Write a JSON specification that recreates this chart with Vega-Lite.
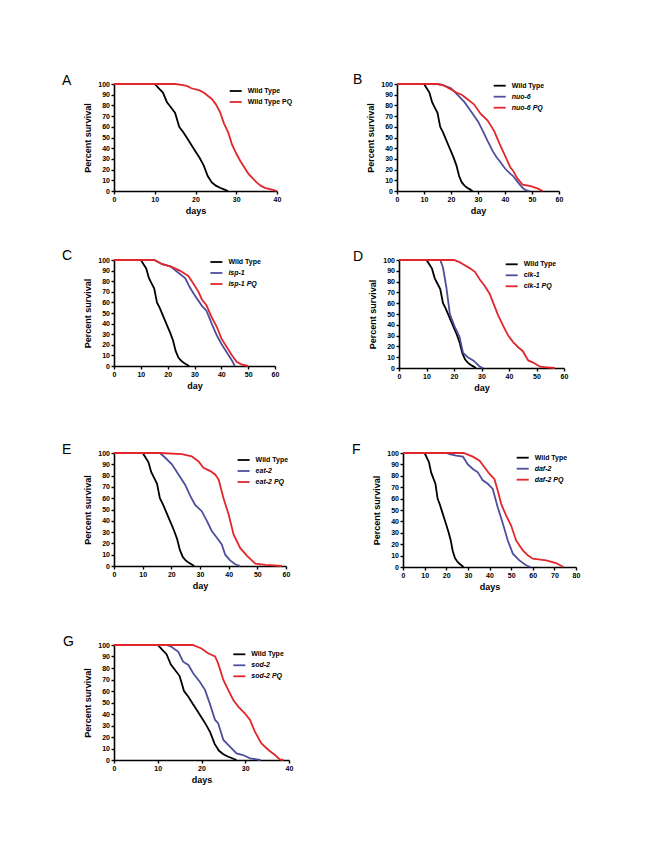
{
  "$schema": "https://vega.github.io/schema/vega-lite/v6.json",
  "background": "white",
  "padding": {"left": 62, "top": 72, "right": 5, "bottom": 5},
  "config": {
    "view": {"stroke": null},
    "font": "Liberation Sans",
    "title": {"anchor": "start", "frame": "group", "dx": -50, "offset": 0, "baseline": "alphabetic", "dy": 12, "fontSize": 14, "fontWeight": "normal", "font": "Liberation Sans", "color": "#000"},
    "axis": {"grid": false, "domainColor": "#000", "domainWidth": 1.6, "tickColor": "#000", "tickWidth": 1.4, "tickSize": 3, "labelFont": "Liberation Sans", "labelFontSize": 7, "labelFontWeight": "bold", "labelColor": "#000", "labelPadding": 1.5, "labelFlush": false, "labelOverlap": false, "titleFont": "Liberation Sans", "titleFontSize": 9, "titleFontWeight": "bold", "titleColor": "#000"},
    "axisX": {"titlePadding": 4},
    "axisY": {"titlePadding": 5},
    "legend": {"orient": "none", "symbolType": "stroke", "symbolSize": 144, "symbolStrokeWidth": 2, "labelFont": "Liberation Sans", "labelFontSize": 7, "labelFontWeight": "bold", "labelColor": "#000", "labelOffset": 5, "rowPadding": 0, "padding": 0},
    "line": {"strokeWidth": 1.8}
  },
  "datasets": {
    "A": [
      {"series": "Wild Type", "day": 0, "survival": 100}, {"series": "Wild Type", "day": 10, "survival": 100}, {"series": "Wild Type", "day": 11, "survival": 96}, {"series": "Wild Type", "day": 12, "survival": 92}, {"series": "Wild Type", "day": 13, "survival": 83}, {"series": "Wild Type", "day": 14, "survival": 78}, {"series": "Wild Type", "day": 15, "survival": 73}, {"series": "Wild Type", "day": 16, "survival": 60}, {"series": "Wild Type", "day": 17, "survival": 55}, {"series": "Wild Type", "day": 18, "survival": 49}, {"series": "Wild Type", "day": 19, "survival": 43}, {"series": "Wild Type", "day": 20, "survival": 37}, {"series": "Wild Type", "day": 21, "survival": 31}, {"series": "Wild Type", "day": 22, "survival": 24}, {"series": "Wild Type", "day": 23, "survival": 14}, {"series": "Wild Type", "day": 24, "survival": 8}, {"series": "Wild Type", "day": 25, "survival": 5}, {"series": "Wild Type", "day": 26, "survival": 3}, {"series": "Wild Type", "day": 27, "survival": 1.5}, {"series": "Wild Type", "day": 28, "survival": 0},
      {"series": "Wild Type PQ", "day": 0, "survival": 100}, {"series": "Wild Type PQ", "day": 15, "survival": 100}, {"series": "Wild Type PQ", "day": 17, "survival": 99}, {"series": "Wild Type PQ", "day": 18, "survival": 98}, {"series": "Wild Type PQ", "day": 19, "survival": 96}, {"series": "Wild Type PQ", "day": 21, "survival": 94}, {"series": "Wild Type PQ", "day": 22, "survival": 92}, {"series": "Wild Type PQ", "day": 23, "survival": 89}, {"series": "Wild Type PQ", "day": 24, "survival": 86}, {"series": "Wild Type PQ", "day": 25, "survival": 81}, {"series": "Wild Type PQ", "day": 26, "survival": 74}, {"series": "Wild Type PQ", "day": 27, "survival": 63}, {"series": "Wild Type PQ", "day": 28, "survival": 55}, {"series": "Wild Type PQ", "day": 29, "survival": 43}, {"series": "Wild Type PQ", "day": 30, "survival": 35}, {"series": "Wild Type PQ", "day": 31, "survival": 28}, {"series": "Wild Type PQ", "day": 32, "survival": 22}, {"series": "Wild Type PQ", "day": 33, "survival": 16}, {"series": "Wild Type PQ", "day": 34, "survival": 12}, {"series": "Wild Type PQ", "day": 35, "survival": 8}, {"series": "Wild Type PQ", "day": 36, "survival": 5}, {"series": "Wild Type PQ", "day": 37, "survival": 3}, {"series": "Wild Type PQ", "day": 38, "survival": 2}, {"series": "Wild Type PQ", "day": 39, "survival": 1}, {"series": "Wild Type PQ", "day": 40, "survival": 0}
    ],
    "B": [
      {"series": "Wild Type", "day": 0, "survival": 100}, {"series": "Wild Type", "day": 10, "survival": 100}, {"series": "Wild Type", "day": 11, "survival": 96}, {"series": "Wild Type", "day": 12, "survival": 92}, {"series": "Wild Type", "day": 13, "survival": 83}, {"series": "Wild Type", "day": 14, "survival": 78}, {"series": "Wild Type", "day": 15, "survival": 73}, {"series": "Wild Type", "day": 16, "survival": 60}, {"series": "Wild Type", "day": 17, "survival": 55}, {"series": "Wild Type", "day": 18, "survival": 49}, {"series": "Wild Type", "day": 19, "survival": 43}, {"series": "Wild Type", "day": 20, "survival": 37}, {"series": "Wild Type", "day": 21, "survival": 31}, {"series": "Wild Type", "day": 22, "survival": 24}, {"series": "Wild Type", "day": 23, "survival": 14}, {"series": "Wild Type", "day": 24, "survival": 8}, {"series": "Wild Type", "day": 25, "survival": 5}, {"series": "Wild Type", "day": 26, "survival": 3}, {"series": "Wild Type", "day": 27, "survival": 1.5}, {"series": "Wild Type", "day": 28, "survival": 0},
      {"series": "nuo-6", "day": 0, "survival": 100}, {"series": "nuo-6", "day": 15, "survival": 100}, {"series": "nuo-6", "day": 17, "survival": 99}, {"series": "nuo-6", "day": 20, "survival": 96}, {"series": "nuo-6", "day": 22, "survival": 91}, {"series": "nuo-6", "day": 25, "survival": 83}, {"series": "nuo-6", "day": 27, "survival": 76}, {"series": "nuo-6", "day": 30, "survival": 65}, {"series": "nuo-6", "day": 32, "survival": 55}, {"series": "nuo-6", "day": 33.5, "survival": 47}, {"series": "nuo-6", "day": 35.5, "survival": 37}, {"series": "nuo-6", "day": 37, "survival": 31}, {"series": "nuo-6", "day": 38, "survival": 28}, {"series": "nuo-6", "day": 40, "survival": 21}, {"series": "nuo-6", "day": 42, "survival": 16}, {"series": "nuo-6", "day": 43, "survival": 14}, {"series": "nuo-6", "day": 44.5, "survival": 9}, {"series": "nuo-6", "day": 46.5, "survival": 3}, {"series": "nuo-6", "day": 47.5, "survival": 1}, {"series": "nuo-6", "day": 49, "survival": 0},
      {"series": "nuo-6 PQ", "day": 0, "survival": 100}, {"series": "nuo-6 PQ", "day": 15, "survival": 100}, {"series": "nuo-6 PQ", "day": 17, "survival": 99}, {"series": "nuo-6 PQ", "day": 20, "survival": 95}, {"series": "nuo-6 PQ", "day": 22, "survival": 92}, {"series": "nuo-6 PQ", "day": 24, "survival": 90}, {"series": "nuo-6 PQ", "day": 26, "survival": 86}, {"series": "nuo-6 PQ", "day": 28.5, "survival": 81}, {"series": "nuo-6 PQ", "day": 31, "survival": 72}, {"series": "nuo-6 PQ", "day": 33.5, "survival": 66}, {"series": "nuo-6 PQ", "day": 36, "survival": 56}, {"series": "nuo-6 PQ", "day": 38, "survival": 44}, {"series": "nuo-6 PQ", "day": 40, "survival": 33}, {"series": "nuo-6 PQ", "day": 42, "survival": 22}, {"series": "nuo-6 PQ", "day": 43, "survival": 19}, {"series": "nuo-6 PQ", "day": 44.5, "survival": 12}, {"series": "nuo-6 PQ", "day": 46.5, "survival": 6}, {"series": "nuo-6 PQ", "day": 49.5, "survival": 4.5}, {"series": "nuo-6 PQ", "day": 52, "survival": 2.5}, {"series": "nuo-6 PQ", "day": 54, "survival": 0}
    ],
    "C": [
      {"series": "Wild Type", "day": 0, "survival": 100}, {"series": "Wild Type", "day": 10, "survival": 100}, {"series": "Wild Type", "day": 11, "survival": 96}, {"series": "Wild Type", "day": 12, "survival": 92}, {"series": "Wild Type", "day": 13, "survival": 83}, {"series": "Wild Type", "day": 14, "survival": 78}, {"series": "Wild Type", "day": 15, "survival": 73}, {"series": "Wild Type", "day": 16, "survival": 60}, {"series": "Wild Type", "day": 17, "survival": 55}, {"series": "Wild Type", "day": 18, "survival": 49}, {"series": "Wild Type", "day": 19, "survival": 43}, {"series": "Wild Type", "day": 20, "survival": 37}, {"series": "Wild Type", "day": 21, "survival": 31}, {"series": "Wild Type", "day": 22, "survival": 24}, {"series": "Wild Type", "day": 23, "survival": 14}, {"series": "Wild Type", "day": 24, "survival": 8}, {"series": "Wild Type", "day": 25, "survival": 5}, {"series": "Wild Type", "day": 26, "survival": 3}, {"series": "Wild Type", "day": 27, "survival": 1.5}, {"series": "Wild Type", "day": 28, "survival": 0},
      {"series": "isp-1", "day": 0, "survival": 100}, {"series": "isp-1", "day": 15, "survival": 100}, {"series": "isp-1", "day": 18, "survival": 96}, {"series": "isp-1", "day": 21, "survival": 94}, {"series": "isp-1", "day": 24, "survival": 88}, {"series": "isp-1", "day": 26.5, "survival": 83}, {"series": "isp-1", "day": 28.3, "survival": 74}, {"series": "isp-1", "day": 30, "survival": 67}, {"series": "isp-1", "day": 32.7, "survival": 57}, {"series": "isp-1", "day": 34.5, "survival": 52}, {"series": "isp-1", "day": 36.4, "survival": 40}, {"series": "isp-1", "day": 38.3, "survival": 29}, {"series": "isp-1", "day": 40, "survival": 21}, {"series": "isp-1", "day": 42, "survival": 13}, {"series": "isp-1", "day": 44, "survival": 5}, {"series": "isp-1", "day": 45, "survival": 0},
      {"series": "isp-1 PQ", "day": 0, "survival": 100}, {"series": "isp-1 PQ", "day": 15, "survival": 100}, {"series": "isp-1 PQ", "day": 18, "survival": 96}, {"series": "isp-1 PQ", "day": 21.5, "survival": 93.5}, {"series": "isp-1 PQ", "day": 24.5, "survival": 90}, {"series": "isp-1 PQ", "day": 27.7, "survival": 85}, {"series": "isp-1 PQ", "day": 29.5, "survival": 78}, {"series": "isp-1 PQ", "day": 31.5, "survival": 70}, {"series": "isp-1 PQ", "day": 32.7, "survival": 63}, {"series": "isp-1 PQ", "day": 34.5, "survival": 57}, {"series": "isp-1 PQ", "day": 36.4, "survival": 46}, {"series": "isp-1 PQ", "day": 38.3, "survival": 37}, {"series": "isp-1 PQ", "day": 40, "survival": 26}, {"series": "isp-1 PQ", "day": 42, "survival": 18}, {"series": "isp-1 PQ", "day": 44, "survival": 10}, {"series": "isp-1 PQ", "day": 45.7, "survival": 4}, {"series": "isp-1 PQ", "day": 47.5, "survival": 1.5}, {"series": "isp-1 PQ", "day": 50, "survival": 0}
    ],
    "D": [
      {"series": "Wild Type", "day": 0, "survival": 100}, {"series": "Wild Type", "day": 10, "survival": 100}, {"series": "Wild Type", "day": 11, "survival": 96}, {"series": "Wild Type", "day": 12, "survival": 92}, {"series": "Wild Type", "day": 13, "survival": 83}, {"series": "Wild Type", "day": 14, "survival": 78}, {"series": "Wild Type", "day": 15, "survival": 73}, {"series": "Wild Type", "day": 16, "survival": 60}, {"series": "Wild Type", "day": 17, "survival": 55}, {"series": "Wild Type", "day": 18, "survival": 49}, {"series": "Wild Type", "day": 19, "survival": 43}, {"series": "Wild Type", "day": 20, "survival": 37}, {"series": "Wild Type", "day": 21, "survival": 31}, {"series": "Wild Type", "day": 22, "survival": 24}, {"series": "Wild Type", "day": 23, "survival": 14}, {"series": "Wild Type", "day": 24, "survival": 8}, {"series": "Wild Type", "day": 25, "survival": 5}, {"series": "Wild Type", "day": 26, "survival": 3}, {"series": "Wild Type", "day": 27, "survival": 1.5}, {"series": "Wild Type", "day": 28, "survival": 0},
      {"series": "clk-1", "day": 0, "survival": 100}, {"series": "clk-1", "day": 15, "survival": 100}, {"series": "clk-1", "day": 16, "survival": 93}, {"series": "clk-1", "day": 17.2, "survival": 75}, {"series": "clk-1", "day": 18.5, "survival": 50}, {"series": "clk-1", "day": 20.3, "survival": 38}, {"series": "clk-1", "day": 22, "survival": 29}, {"series": "clk-1", "day": 23.3, "survival": 14}, {"series": "clk-1", "day": 25, "survival": 10}, {"series": "clk-1", "day": 27, "survival": 7}, {"series": "clk-1", "day": 29.4, "survival": 1.2}, {"series": "clk-1", "day": 30.6, "survival": 0},
      {"series": "clk-1 PQ", "day": 0, "survival": 100}, {"series": "clk-1 PQ", "day": 20, "survival": 100}, {"series": "clk-1 PQ", "day": 22, "survival": 98}, {"series": "clk-1 PQ", "day": 23.3, "survival": 96}, {"series": "clk-1 PQ", "day": 25.7, "survival": 92.5}, {"series": "clk-1 PQ", "day": 27.6, "survival": 89}, {"series": "clk-1 PQ", "day": 29.4, "survival": 82}, {"series": "clk-1 PQ", "day": 31.2, "survival": 76}, {"series": "clk-1 PQ", "day": 33, "survival": 68.5}, {"series": "clk-1 PQ", "day": 34.3, "survival": 60}, {"series": "clk-1 PQ", "day": 36.1, "survival": 48.5}, {"series": "clk-1 PQ", "day": 37.9, "survival": 39}, {"series": "clk-1 PQ", "day": 39.7, "survival": 30}, {"series": "clk-1 PQ", "day": 41.5, "survival": 24}, {"series": "clk-1 PQ", "day": 43.4, "survival": 19}, {"series": "clk-1 PQ", "day": 44.9, "survival": 16}, {"series": "clk-1 PQ", "day": 47, "survival": 7}, {"series": "clk-1 PQ", "day": 48.8, "survival": 5}, {"series": "clk-1 PQ", "day": 51.3, "survival": 1.2}, {"series": "clk-1 PQ", "day": 53.7, "survival": 0.6}, {"series": "clk-1 PQ", "day": 56.7, "survival": 0}
    ],
    "E": [
      {"series": "Wild Type", "day": 0, "survival": 100}, {"series": "Wild Type", "day": 10, "survival": 100}, {"series": "Wild Type", "day": 11, "survival": 96}, {"series": "Wild Type", "day": 12, "survival": 92}, {"series": "Wild Type", "day": 13, "survival": 83}, {"series": "Wild Type", "day": 14, "survival": 78}, {"series": "Wild Type", "day": 15, "survival": 73}, {"series": "Wild Type", "day": 16, "survival": 60}, {"series": "Wild Type", "day": 17, "survival": 55}, {"series": "Wild Type", "day": 18, "survival": 49}, {"series": "Wild Type", "day": 19, "survival": 43}, {"series": "Wild Type", "day": 20, "survival": 37}, {"series": "Wild Type", "day": 21, "survival": 31}, {"series": "Wild Type", "day": 22, "survival": 24}, {"series": "Wild Type", "day": 23, "survival": 14}, {"series": "Wild Type", "day": 24, "survival": 8}, {"series": "Wild Type", "day": 25, "survival": 5}, {"series": "Wild Type", "day": 26, "survival": 3}, {"series": "Wild Type", "day": 27, "survival": 1.5}, {"series": "Wild Type", "day": 28, "survival": 0},
      {"series": "eat-2", "day": 0, "survival": 100}, {"series": "eat-2", "day": 16, "survival": 100}, {"series": "eat-2", "day": 17.8, "survival": 96}, {"series": "eat-2", "day": 20.2, "survival": 90}, {"series": "eat-2", "day": 22.5, "survival": 81}, {"series": "eat-2", "day": 24.8, "survival": 72}, {"series": "eat-2", "day": 26.6, "survival": 62}, {"series": "eat-2", "day": 28.3, "survival": 54}, {"series": "eat-2", "day": 30.6, "survival": 48.5}, {"series": "eat-2", "day": 32.4, "survival": 40}, {"series": "eat-2", "day": 34.1, "survival": 31}, {"series": "eat-2", "day": 35.9, "survival": 25}, {"series": "eat-2", "day": 37.6, "survival": 19}, {"series": "eat-2", "day": 38.8, "survival": 10}, {"series": "eat-2", "day": 40.5, "survival": 5}, {"series": "eat-2", "day": 42.3, "survival": 1.5}, {"series": "eat-2", "day": 44, "survival": 0},
      {"series": "eat-2 PQ", "day": 0, "survival": 100}, {"series": "eat-2 PQ", "day": 16, "survival": 100}, {"series": "eat-2 PQ", "day": 23.7, "survival": 99}, {"series": "eat-2 PQ", "day": 27.1, "survival": 97}, {"series": "eat-2 PQ", "day": 29.5, "survival": 92.5}, {"series": "eat-2 PQ", "day": 31.2, "survival": 87}, {"series": "eat-2 PQ", "day": 33.6, "survival": 84}, {"series": "eat-2 PQ", "day": 35.3, "survival": 81}, {"series": "eat-2 PQ", "day": 36.5, "survival": 76.5}, {"series": "eat-2 PQ", "day": 38.2, "survival": 60}, {"series": "eat-2 PQ", "day": 40, "survival": 45.5}, {"series": "eat-2 PQ", "day": 41.7, "survival": 28}, {"series": "eat-2 PQ", "day": 44, "survival": 16}, {"series": "eat-2 PQ", "day": 46.4, "survival": 9}, {"series": "eat-2 PQ", "day": 49.3, "survival": 2}, {"series": "eat-2 PQ", "day": 52.8, "survival": 1}, {"series": "eat-2 PQ", "day": 58.6, "survival": 0}
    ],
    "F": [
      {"series": "Wild Type", "day": 0, "survival": 100}, {"series": "Wild Type", "day": 10, "survival": 100}, {"series": "Wild Type", "day": 11, "survival": 96}, {"series": "Wild Type", "day": 12, "survival": 92}, {"series": "Wild Type", "day": 13, "survival": 83}, {"series": "Wild Type", "day": 14, "survival": 78}, {"series": "Wild Type", "day": 15, "survival": 73}, {"series": "Wild Type", "day": 16, "survival": 60}, {"series": "Wild Type", "day": 17, "survival": 55}, {"series": "Wild Type", "day": 18, "survival": 49}, {"series": "Wild Type", "day": 19, "survival": 43}, {"series": "Wild Type", "day": 20, "survival": 37}, {"series": "Wild Type", "day": 21, "survival": 31}, {"series": "Wild Type", "day": 22, "survival": 24}, {"series": "Wild Type", "day": 23, "survival": 14}, {"series": "Wild Type", "day": 24, "survival": 8}, {"series": "Wild Type", "day": 25, "survival": 5}, {"series": "Wild Type", "day": 26, "survival": 3}, {"series": "Wild Type", "day": 27, "survival": 1.5}, {"series": "Wild Type", "day": 28, "survival": 0},
      {"series": "daf-2", "day": 0, "survival": 100}, {"series": "daf-2", "day": 20, "survival": 100}, {"series": "daf-2", "day": 21.5, "survival": 99}, {"series": "daf-2", "day": 24.6, "survival": 97.7}, {"series": "daf-2", "day": 27.7, "survival": 96.8}, {"series": "daf-2", "day": 30, "survival": 90}, {"series": "daf-2", "day": 32.3, "survival": 86}, {"series": "daf-2", "day": 34.6, "survival": 83}, {"series": "daf-2", "day": 36.9, "survival": 76}, {"series": "daf-2", "day": 39.2, "survival": 73}, {"series": "daf-2", "day": 41.5, "survival": 68.5}, {"series": "daf-2", "day": 43.8, "survival": 52.5}, {"series": "daf-2", "day": 46.2, "survival": 38}, {"series": "daf-2", "day": 48.5, "survival": 23}, {"series": "daf-2", "day": 50.8, "survival": 11.7}, {"series": "daf-2", "day": 53.8, "survival": 5.8}, {"series": "daf-2", "day": 56.9, "survival": 1.5}, {"series": "daf-2", "day": 59, "survival": 0},
      {"series": "daf-2 PQ", "day": 0, "survival": 100}, {"series": "daf-2 PQ", "day": 28, "survival": 100}, {"series": "daf-2 PQ", "day": 32.3, "survival": 96.8}, {"series": "daf-2 PQ", "day": 35.4, "survival": 93.3}, {"series": "daf-2 PQ", "day": 37.7, "survival": 87.5}, {"series": "daf-2 PQ", "day": 40, "survival": 81.6}, {"series": "daf-2 PQ", "day": 42.3, "survival": 77}, {"series": "daf-2 PQ", "day": 43.8, "survival": 67}, {"series": "daf-2 PQ", "day": 45.4, "survival": 55.4}, {"series": "daf-2 PQ", "day": 47.7, "survival": 45}, {"series": "daf-2 PQ", "day": 50, "survival": 36.4}, {"series": "daf-2 PQ", "day": 52.3, "survival": 23.3}, {"series": "daf-2 PQ", "day": 55.4, "survival": 14.6}, {"series": "daf-2 PQ", "day": 57.7, "survival": 10.2}, {"series": "daf-2 PQ", "day": 60, "survival": 7.3}, {"series": "daf-2 PQ", "day": 66.2, "survival": 5.8}, {"series": "daf-2 PQ", "day": 70.8, "survival": 3.5}, {"series": "daf-2 PQ", "day": 74.2, "survival": 0}
    ],
    "G": [
      {"series": "Wild Type", "day": 0, "survival": 100}, {"series": "Wild Type", "day": 10, "survival": 100}, {"series": "Wild Type", "day": 11, "survival": 96}, {"series": "Wild Type", "day": 12, "survival": 92}, {"series": "Wild Type", "day": 13, "survival": 83}, {"series": "Wild Type", "day": 14, "survival": 78}, {"series": "Wild Type", "day": 15, "survival": 73}, {"series": "Wild Type", "day": 16, "survival": 60}, {"series": "Wild Type", "day": 17, "survival": 55}, {"series": "Wild Type", "day": 18, "survival": 49}, {"series": "Wild Type", "day": 19, "survival": 43}, {"series": "Wild Type", "day": 20, "survival": 37}, {"series": "Wild Type", "day": 21, "survival": 31}, {"series": "Wild Type", "day": 22, "survival": 24}, {"series": "Wild Type", "day": 23, "survival": 14}, {"series": "Wild Type", "day": 24, "survival": 8}, {"series": "Wild Type", "day": 25, "survival": 5}, {"series": "Wild Type", "day": 26, "survival": 3}, {"series": "Wild Type", "day": 27, "survival": 1.5}, {"series": "Wild Type", "day": 28, "survival": 0},
      {"series": "sod-2", "day": 0, "survival": 100}, {"series": "sod-2", "day": 12, "survival": 100}, {"series": "sod-2", "day": 13.1, "survival": 98.5}, {"series": "sod-2", "day": 14.7, "survival": 94}, {"series": "sod-2", "day": 15.8, "survival": 85.5}, {"series": "sod-2", "day": 17, "survival": 82.6}, {"series": "sod-2", "day": 18.1, "survival": 75.4}, {"series": "sod-2", "day": 19.6, "survival": 68}, {"series": "sod-2", "day": 20.8, "survival": 61}, {"series": "sod-2", "day": 21.9, "survival": 49}, {"series": "sod-2", "day": 23.1, "survival": 34.8}, {"series": "sod-2", "day": 23.8, "survival": 32}, {"series": "sod-2", "day": 25, "survival": 17.4}, {"series": "sod-2", "day": 26.5, "survival": 11.6}, {"series": "sod-2", "day": 28, "survival": 5.8}, {"series": "sod-2", "day": 29.5, "survival": 4.3}, {"series": "sod-2", "day": 31.1, "survival": 1.4}, {"series": "sod-2", "day": 32.6, "survival": 0.6}, {"series": "sod-2", "day": 33.5, "survival": 0},
      {"series": "sod-2 PQ", "day": 0, "survival": 100}, {"series": "sod-2 PQ", "day": 18, "survival": 100}, {"series": "sod-2 PQ", "day": 20, "survival": 97}, {"series": "sod-2 PQ", "day": 21.5, "survival": 92.8}, {"series": "sod-2 PQ", "day": 23.1, "survival": 90}, {"series": "sod-2 PQ", "day": 23.8, "survival": 84}, {"series": "sod-2 PQ", "day": 25, "survival": 69.6}, {"series": "sod-2 PQ", "day": 26.1, "survival": 61}, {"series": "sod-2 PQ", "day": 27.3, "survival": 52}, {"series": "sod-2 PQ", "day": 28.4, "survival": 46.4}, {"series": "sod-2 PQ", "day": 29.9, "survival": 40.6}, {"series": "sod-2 PQ", "day": 31.1, "survival": 34.8}, {"series": "sod-2 PQ", "day": 32.2, "survival": 24.6}, {"series": "sod-2 PQ", "day": 33.7, "survival": 14.5}, {"series": "sod-2 PQ", "day": 35.3, "survival": 8.7}, {"series": "sod-2 PQ", "day": 36.8, "survival": 4.3}, {"series": "sod-2 PQ", "day": 37.9, "survival": 0.6}, {"series": "sod-2 PQ", "day": 38.7, "survival": 0}
    ]
  },
  "vconcat": [
    {
      "hconcat": [
        {
          "title": {"text": "A", "dx": -52},
          "width": 163, "height": 107,
          "data": {"name": "A"},
          "mark": {"type": "line"},
          "encoding": {
            "x": {"field": "day", "type": "quantitative", "scale": {"domain": [0, 40], "nice": false}, "axis": {"title": "days", "values": [0, 10, 20, 30, 40]}},
            "y": {"field": "survival", "type": "quantitative", "scale": {"domain": [0, 100]}, "axis": {"title": "Percent survival", "values": [0, 10, 20, 30, 40, 50, 60, 70, 80, 90, 100]}},
            "color": {"field": "series", "type": "nominal", "scale": {"domain": ["Wild Type", "Wild Type PQ"], "range": ["#000000", "#e2262b"]}, "legend": {"title": null, "legendX": 114.7, "legendY": 0}}
          }
        },
        {
          "title": {"text": "B", "dx": -44},
          "width": 162, "height": 107,
          "data": {"name": "B"},
          "mark": {"type": "line"},
          "encoding": {
            "x": {"field": "day", "type": "quantitative", "scale": {"domain": [0, 60], "nice": false}, "axis": {"title": "day", "values": [0, 10, 20, 30, 40, 50, 60]}},
            "y": {"field": "survival", "type": "quantitative", "scale": {"domain": [0, 100]}, "axis": {"title": "Percent survival", "values": [0, 10, 20, 30, 40, 50, 60, 70, 80, 90, 100]}},
            "color": {"field": "series", "type": "nominal", "scale": {"domain": ["Wild Type", "nuo-6", "nuo-6 PQ"], "range": ["#000000", "#4e4f9c", "#e2262b"]}, "legend": {"title": null, "legendX": 95.7, "legendY": -5.3, "labelFontStyle": {"expr": "datum.label == 'Wild Type' ? 'normal' : 'italic'"}}}
          }
        }
      ],
      "spacing": 120, "bounds": "flush",
      "resolve": {"scale": {"color": "independent", "x": "independent", "y": "independent"}, "legend": {"color": "independent"}}
    },
    {
      "vconcat": [
        {
          "hconcat": [
            {
              "title": {"text": "C", "dx": -52},
              "width": 161, "height": 106,
              "data": {"name": "C"},
              "mark": {"type": "line"},
              "encoding": {
                "x": {"field": "day", "type": "quantitative", "scale": {"domain": [0, 60], "nice": false}, "axis": {"title": "day", "values": [0, 10, 20, 30, 40, 50, 60]}},
                "y": {"field": "survival", "type": "quantitative", "scale": {"domain": [0, 100]}, "axis": {"title": "Percent survival", "values": [0, 10, 20, 30, 40, 50, 60, 70, 80, 90, 100]}},
                "color": {"field": "series", "type": "nominal", "scale": {"domain": ["Wild Type", "isp-1", "isp-1 PQ"], "range": ["#000000", "#4e4f9c", "#e2262b"]}, "legend": {"title": null, "legendX": 95.4, "legendY": -5, "labelFontStyle": {"expr": "datum.label == 'Wild Type' ? 'normal' : 'italic'"}}}
              }
            },
            {
              "title": {"text": "D", "dx": -46},
              "width": 165, "height": 108,
              "data": {"name": "D"},
              "mark": {"type": "line"},
              "encoding": {
                "x": {"field": "day", "type": "quantitative", "scale": {"domain": [0, 60], "nice": false}, "axis": {"title": "day", "values": [0, 10, 20, 30, 40, 50, 60]}},
                "y": {"field": "survival", "type": "quantitative", "scale": {"domain": [0, 100]}, "axis": {"title": "Percent survival", "values": [0, 10, 20, 30, 40, 50, 60, 70, 80, 90, 100]}},
                "color": {"field": "series", "type": "nominal", "scale": {"domain": ["Wild Type", "clk-1", "clk-1 PQ"], "range": ["#000000", "#4e4f9c", "#e2262b"]}, "legend": {"title": null, "legendX": 105.7, "legendY": -2.7, "labelFontStyle": {"expr": "datum.label == 'Wild Type' ? 'normal' : 'italic'"}}}
              }
            }
          ],
          "spacing": 124, "bounds": "flush",
          "resolve": {"scale": {"color": "independent", "x": "independent", "y": "independent"}, "legend": {"color": "independent"}}
        },
        {
          "vconcat": [
            {
              "hconcat": [
                {
                  "title": {"text": "E", "dx": -52},
                  "width": 172, "height": 113,
                  "data": {"name": "E"},
                  "mark": {"type": "line"},
                  "encoding": {
                    "x": {"field": "day", "type": "quantitative", "scale": {"domain": [0, 60], "nice": false}, "axis": {"title": "day", "values": [0, 10, 20, 30, 40, 50, 60]}},
                    "y": {"field": "survival", "type": "quantitative", "scale": {"domain": [0, 100]}, "axis": {"title": "Percent survival", "values": [0, 10, 20, 30, 40, 50, 60, 70, 80, 90, 100]}},
                    "color": {"field": "series", "type": "nominal", "scale": {"domain": ["Wild Type", "eat-2", "eat-2 PQ"], "range": ["#000000", "#4e4f9c", "#e2262b"]}, "legend": {"title": null, "legendX": 122.6, "legendY": 0, "labelFontStyle": {"expr": "datum.label == 'Wild Type' ? 'normal' : 'italic'"}}}
                  }
                },
                {
                  "title": {"text": "F", "dx": -51},
                  "width": 173, "height": 114,
                  "data": {"name": "F"},
                  "mark": {"type": "line"},
                  "encoding": {
                    "x": {"field": "day", "type": "quantitative", "scale": {"domain": [0, 80], "nice": false}, "axis": {"title": "days", "values": [0, 10, 20, 30, 40, 50, 60, 70, 80]}},
                    "y": {"field": "survival", "type": "quantitative", "scale": {"domain": [0, 100]}, "axis": {"title": "Percent survival", "values": [0, 10, 20, 30, 40, 50, 60, 70, 80, 90, 100]}},
                    "color": {"field": "series", "type": "nominal", "scale": {"domain": ["Wild Type", "daf-2", "daf-2 PQ"], "range": ["#000000", "#4e4f9c", "#e2262b"]}, "legend": {"title": null, "legendX": 112.7, "legendY": -2.3, "labelFontStyle": {"expr": "datum.label == 'Wild Type' ? 'normal' : 'italic'"}}}
                  }
                }
              ],
              "spacing": 117, "bounds": "flush",
              "resolve": {"scale": {"color": "independent", "x": "independent", "y": "independent"}, "legend": {"color": "independent"}}
            },
            {
              "title": {"text": "G", "dx": -51},
              "width": 175, "height": 115,
              "data": {"name": "G"},
              "mark": {"type": "line"},
              "encoding": {
                "x": {"field": "day", "type": "quantitative", "scale": {"domain": [0, 40], "nice": false}, "axis": {"title": "days", "values": [0, 10, 20, 30, 40]}},
                "y": {"field": "survival", "type": "quantitative", "scale": {"domain": [0, 100]}, "axis": {"title": "Percent survival", "values": [0, 10, 20, 30, 40, 50, 60, 70, 80, 90, 100]}},
                "color": {"field": "series", "type": "nominal", "scale": {"domain": ["Wild Type", "sod-2", "sod-2 PQ"], "range": ["#000000", "#4e4f9c", "#e2262b"]}, "legend": {"title": null, "legendX": 118.3, "legendY": 2.3, "labelFontStyle": {"expr": "datum.label == 'Wild Type' ? 'normal' : 'italic'"}}}
              }
            }
          ],
          "spacing": 43,
          "resolve": {"scale": {"color": "independent", "x": "independent", "y": "independent"}, "legend": {"color": "independent"}}
        }
      ],
      "spacing": 50,
      "resolve": {"scale": {"color": "independent", "x": "independent", "y": "independent"}, "legend": {"color": "independent"}}
    }
  ],
  "spacing": 33,
  "resolve": {"scale": {"color": "independent", "x": "independent", "y": "independent"}, "legend": {"color": "independent"}}
}
